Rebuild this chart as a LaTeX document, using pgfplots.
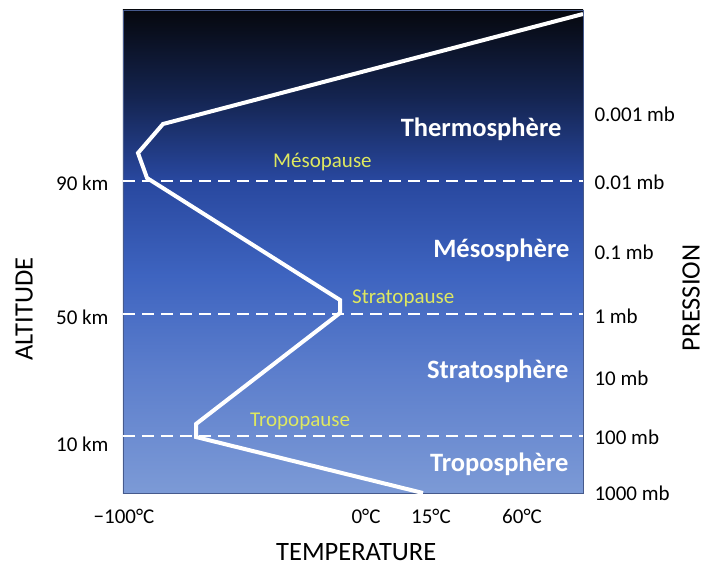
\documentclass[border=0pt]{standalone}
\usepackage{fontspec}
\setmainfont{Carlito}
\usepackage{pgfplots}
\pgfplotsset{compat=1.18}

\definecolor{pausecol}{RGB}{222,232,96}
\definecolor{framecol}{RGB}{70,90,140}
\definecolor{sky0}{RGB}{124,154,214}
\definecolor{sky1}{RGB}{92,126,204}
\definecolor{sky2}{RGB}{62,100,192}
\definecolor{sky3}{RGB}{40,71,158}
\definecolor{sky4}{RGB}{20,36,80}
\definecolor{sky5}{RGB}{6,8,14}

% vertical shading: 25bp = bottom of the axis, 75bp = top
\pgfdeclareverticalshading{sky}{100bp}{color(0bp)=(sky0); color(25bp)=(sky0);
  color(37.5bp)=(sky1); color(47.5bp)=(sky2); color(57.5bp)=(sky3);
  color(66bp)=(sky4); color(75bp)=(sky5); color(100bp)=(sky5)}

\newcommand{\ticksize}{\fontsize{21}{25}\selectfont}
\newcommand{\labsize}{\fontsize{26.5}{30}\selectfont}

\begin{document}
\begin{tikzpicture}
\path[use as bounding box] (-123pt,-75pt) rectangle (585pt,493pt);

% left axis: altitude / temperature (schematic units)
\begin{axis}[
  at={(0pt,0pt)}, anchor=south west,
  scale only axis, width=460pt, height=483pt,
  xmin=0, xmax=460, ymin=0, ymax=483,
  axis background/.style={shade, shading=sky},
  axis line style={draw=framecol, line width=0.8pt},
  major tick length=0pt,
  xtick={1,243,308,399},
  xticklabels={−100°C, 0°C, 15°C, 60°C},
  ytick={49,176,310},
  yticklabels={10 km, 50 km, 90 km},
  tick label style={font=\ticksize},
  xticklabel style={yshift=-13pt},
  yticklabel style={xshift=-11pt},
  xlabel={TEMPERATURE}, ylabel={ALTITUDE},
  label style={font=\labsize},
  xlabel style={at={(axis description cs:0.507,-0.122)}, anchor=center},
  ylabel style={at={(axis description cs:-0.215,0.381)}, anchor=center},
]
% layer boundaries
\addplot[white, line width=2pt, dash pattern=on 12pt off 7pt] coordinates {(0,312) (460,312)};
\addplot[white, line width=2pt, dash pattern=on 12pt off 7pt] coordinates {(0,179) (460,179)};
\addplot[white, line width=2pt, dash pattern=on 12pt off 7pt] coordinates {(0,57) (460,57)};

% temperature profile
\addplot[white, line width=4pt] coordinates {
  (460,479) (40,369) (15,340) (24,315) (217,193) (217,180) (73,69) (73,56) (300,0)
};

\node[anchor=base east, text=white, font=\labsize\bfseries] at (axis cs:442,356) {Thermosphère};
\node[anchor=base east, text=white, font=\labsize\bfseries] at (axis cs:450,236) {Mésosphère};
\node[anchor=base east, text=white, font=\labsize\bfseries] at (axis cs:449,115) {Stratosphère};
\node[anchor=base east, text=white, font=\labsize\bfseries] at (axis cs:449,22) {Troposphère};

\node[anchor=base west, inner sep=0pt, text=pausecol, font=\ticksize] at (axis cs:150,326) {Mésopause};
\node[anchor=base west, inner sep=0pt, text=pausecol, font=\ticksize] at (axis cs:229,190) {Stratopause};
\node[anchor=base west, inner sep=0pt, text=pausecol, font=\ticksize] at (axis cs:127,67) {Tropopause};
\end{axis}

% right axis: pressure
\begin{axis}[
  at={(0pt,0pt)}, anchor=south west,
  scale only axis, width=460pt, height=483pt,
  xmin=0, xmax=460, ymin=0, ymax=483,
  axis x line=none, axis y line*=right,
  y axis line style={draw=none},
  major tick length=0pt,
  ytick={0,56,115,177,241,311,379},
  yticklabels={1000 mb, 100 mb, 10 mb, 1 mb, 0.1 mb, 0.01 mb, 0.001 mb},
  yticklabel style={font=\ticksize, anchor=west, xshift=8pt},
  ylabel={PRESSION},
  ylabel style={font=\labsize, inner sep=1pt, at={(axis description cs:1.235,0.404)}, anchor=center},
]
\end{axis}
\end{tikzpicture}
\end{document}
